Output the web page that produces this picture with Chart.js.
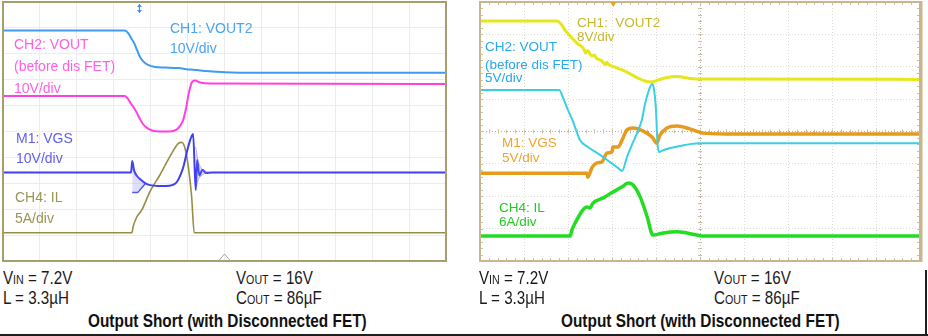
<!DOCTYPE html>
<html>
<head>
<meta charset="utf-8">
<script src="https://cdn.jsdelivr.net/npm/chart.js@4.4.1/dist/chart.umd.min.js"></script>
<style>
  html, body { margin:0; padding:0; background:#ffffff; }
  #root { position:relative; width:928px; height:336px; overflow:hidden; background:#fff; }
  .panel { position:absolute; top:0; }
  .lbl { position:absolute; font-family:"Liberation Sans", Arial, sans-serif; white-space:pre; }
  .lft { font-size:14px; line-height:14px; }
  .rgt { font-size:13.5px; line-height:13.5px; }
  .cap { position:absolute; font-family:"Liberation Sans", Arial, sans-serif; color:#1a1a1a; white-space:pre; font-size:18.5px; line-height:18.5px; transform:scaleX(0.82); transform-origin:0 0; }
  .cap .sub { font-size:13px; }
  .ttl { position:absolute; font-family:"Liberation Sans", Arial, sans-serif; font-weight:bold; color:#111; white-space:pre; font-size:19px; line-height:19px; transform:scaleX(0.81); transform-origin:0 0; }
  .rule { position:absolute; background:#1e1e1e; }
</style>
</head>
<body>
<div id="root">
  <div class="panel" style="left:0;width:450px;height:264px;"><canvas id="cL" width="450" height="264"></canvas></div>
  <div class="panel" style="left:476px;width:448px;height:264px;"><canvas id="cR" width="448" height="264"></canvas></div>

  <!-- left panel labels -->
  <div class="lbl lft" style="left:170px;top:21px;color:#4aa3f3;">CH1: VOUT2</div>
  <div class="lbl lft" style="left:170px;top:41px;color:#4aa3f3;">10V/div</div>
  <div class="lbl lft" style="left:14px;top:37px;color:#ff5fe4;">CH2: VOUT</div>
  <div class="lbl lft" style="left:14px;top:59px;color:#ff5fe4;">(before dis FET)</div>
  <div class="lbl lft" style="left:14px;top:81px;color:#ff5fe4;">10V/div</div>
  <div class="lbl lft" style="left:16px;top:131px;color:#5f5ff0;">M1: VGS</div>
  <div class="lbl lft" style="left:16px;top:151px;color:#5f5ff0;">10V/div</div>
  <div class="lbl lft" style="left:15px;top:190px;color:#9a9456;">CH4: IL</div>
  <div class="lbl lft" style="left:15px;top:211px;color:#9a9456;">5A/div</div>

  <!-- right panel labels -->
  <div class="lbl rgt" style="left:577px;top:16px;color:#c6b82c;">CH1:  VOUT2</div>
  <div class="lbl rgt" style="left:577px;top:30px;color:#c6b82c;">8V/div</div>
  <div class="lbl rgt" style="left:485px;top:40px;color:#26a9ee;">CH2: VOUT</div>
  <div class="lbl rgt" style="left:485px;top:58px;color:#26a9ee;">(before dis FET)</div>
  <div class="lbl rgt" style="left:485px;top:71px;color:#26a9ee;">5V/div</div>
  <div class="lbl rgt" style="left:502px;top:136px;color:#f0a42c;">M1: VGS</div>
  <div class="lbl rgt" style="left:502px;top:151px;color:#f0a42c;">5V/div</div>
  <div class="lbl rgt" style="left:499px;top:201px;color:#24cc24;">CH4: IL</div>
  <div class="lbl rgt" style="left:499px;top:215px;color:#24cc24;">6A/div</div>

  <!-- captions -->
  <div class="cap" style="left:3px;top:269px;">V<span class="sub">IN</span> = 7.2V</div>
  <div class="cap" style="left:3px;top:289px;">L = 3.3µH</div>
  <div class="cap" style="left:236px;top:269px;">V<span class="sub">OUT</span> = 16V</div>
  <div class="cap" style="left:236px;top:289px;">C<span class="sub">OUT</span> = 86µF</div>
  <div class="ttl" style="left:88px;top:311px;">Output Short (with Disconnected FET)</div>

  <div class="cap" style="left:479px;top:269px;">V<span class="sub">IN</span> = 7.2V</div>
  <div class="cap" style="left:479px;top:289px;">L = 3.3µH</div>
  <div class="cap" style="left:714px;top:269px;">V<span class="sub">OUT</span> = 16V</div>
  <div class="cap" style="left:714px;top:289px;">C<span class="sub">OUT</span> = 86µF</div>
  <div class="ttl" style="left:561px;top:311px;">Output Short (with Disconnected FET)</div>

  <div class="rule" style="left:0;top:334px;width:928px;height:2px;"></div>
  <div class="rule" style="left:925px;top:270px;width:2px;height:66px;"></div>
</div>

<script>
// ---------------- DATA (x in horizontal divisions, y in vertical divisions) ----------------
// Left scope: 12 x 10 divisions
const leftVout2 = [[0,8.90],[3.30,8.90],[3.39,8.80],[3.47,8.61],[3.55,8.42],[3.63,8.15],[3.71,7.88],[3.82,7.68],[3.93,7.57],[4.12,7.49],[4.39,7.47],[4.74,7.45],[5.07,7.39],[5.47,7.34],[6.01,7.29],[6.96,7.27],[12,7.27]];
const leftVout = [[0,6.37],[3.30,6.37],[3.39,6.25],[3.47,6.06],[3.55,5.91],[3.63,5.71],[3.71,5.48],[3.79,5.29],[3.90,5.14],[4.04,5.04],[4.25,5.00],[4.52,5.00],[4.69,5.06],[4.79,5.21],[4.88,5.44],[4.96,5.91],[5.04,6.53],[5.12,6.91],[5.20,6.97],[5.34,6.89],[5.61,6.85],[12,6.83]];
const leftVgs = [[0,3.42],[3.47,3.42],[3.50,3.86],[3.55,3.50],[3.63,3.28],[3.74,3.13],[3.85,3.01],[3.98,2.93],[4.20,2.90],[4.41,2.90],[4.58,2.93],[4.71,3.05],[4.82,3.36],[4.90,3.71],[4.98,4.21],[5.07,4.67],[5.15,4.90],[5.22,2.74],[5.26,3.90],[5.32,3.30],[5.40,3.52],[5.50,3.40],[5.66,3.42],[12,3.42]];
const leftVgsRingTop = [[3.50,3.86],[3.55,3.50],[3.63,3.28],[3.74,3.13],[3.85,3.01]];
const leftVgsRingBottom = [[3.50,2.64],[3.55,2.64],[3.63,2.64],[3.74,2.80],[3.85,2.98]];
const leftVgsRing2Top = [[5.22,4.40],[5.28,3.90],[5.36,3.60],[5.46,3.48],[5.58,3.43]];
const leftVgsRing2Bottom = [[5.22,2.74],[5.28,3.10],[5.36,3.28],[5.46,3.37],[5.58,3.41]];
const leftIl = [[0,1.09],[3.49,1.09],[3.53,1.35],[3.62,1.69],[3.76,1.97],[3.98,2.68],[4.25,3.32],[4.52,4.03],[4.75,4.54],[4.84,4.58],[4.93,4.35],[5.02,3.64],[5.11,2.48],[5.18,1.09],[12,1.09]];

// Right scope: 10 x 8 divisions
const rightVout2 = [[0,7.41],[1.75,7.41],[1.84,7.32],[1.95,7.10],[2.09,6.89],[2.23,6.70],[2.36,6.55],[2.40,6.42],[2.45,6.50],[2.50,6.39],[2.55,6.33],[2.60,6.36],[2.64,6.27],[2.77,6.18],[2.85,6.07],[2.88,6.14],[2.91,6.08],[3.07,5.99],[3.23,5.90],[3.41,5.78],[3.59,5.65],[3.75,5.56],[3.89,5.53],[4.05,5.59],[4.25,5.67],[4.48,5.70],[4.77,5.64],[5.11,5.62],[10,5.61]];
const rightVout = [[0,5.28],[1.80,5.28],[1.89,5.03],[1.98,4.73],[2.05,4.51],[2.11,4.32],[2.20,3.98],[2.27,3.74],[2.45,3.52],[2.66,3.34],[2.95,3.06],[3.14,2.87],[3.23,2.78],[3.34,3.21],[3.45,3.58],[3.57,3.95],[3.68,4.36],[3.75,4.85],[3.84,5.28],[3.91,5.47],[3.95,5.34],[4.00,4.66],[4.03,3.74],[4.06,3.37],[4.18,3.43],[4.32,3.49],[4.55,3.55],[4.77,3.61],[5.00,3.64],[10,3.64]];
const rightVgs = [[0,2.71],[2.43,2.71],[2.45,2.59],[2.55,2.90],[2.66,3.03],[2.77,3.06],[2.89,3.34],[3.00,3.37],[3.02,3.52],[3.14,3.52],[3.23,3.74],[3.34,4.05],[3.48,4.11],[3.70,4.02],[3.91,3.83],[4.02,3.64],[4.09,3.89],[4.25,4.11],[4.48,4.17],[4.77,4.08],[5.07,3.95],[5.84,3.92],[10,3.92]];
const rightIl = [[0,0.77],[2.05,0.77],[2.09,0.96],[2.20,1.27],[2.34,1.58],[2.43,1.67],[2.50,1.64],[2.57,1.79],[2.80,1.95],[3.02,2.13],[3.23,2.29],[3.36,2.41],[3.48,2.35],[3.64,1.98],[3.80,1.36],[3.93,0.80],[4.14,0.86],[4.48,0.90],[4.93,0.80],[5.07,0.77],[10,0.77]];

// Scope markers (in divisions)
const leftTriggerDiv = 3.68;
const leftRefDiv = 6.0;
const rightTriggerDiv = 3.03;

// ---------------- helpers ----------------
const pts = arr => arr.map(p => ({x:p[0], y:p[1]}));
function line(data, color, width, extra) {
  return Object.assign({data: pts(data), borderColor: color, borderWidth: width, pointRadius: 0,
    fill: false, cubicInterpolationMode: 'monotone', spanGaps: true}, extra || {});
}

function framePlugin(color, width, extraRight) {
  return {
    id: 'frame',
    afterDraw(chart) {
      const a = chart.chartArea, c = chart.ctx;
      c.save();
      c.strokeStyle = color; c.lineWidth = width;
      c.strokeRect(a.left, a.top, a.right - a.left, a.bottom - a.top);
      if (extraRight) {
        c.lineWidth = extraRight;
        c.beginPath(); c.moveTo(a.right + 1, a.top - 1); c.lineTo(a.right + 1, a.bottom + 1); c.stroke();
      }
      c.restore();
    }
  };
}

const leftMarkers = {
  id: 'leftMarkers',
  afterDraw(chart) {
    const c = chart.ctx, a = chart.chartArea, xs = chart.scales.x;
    const tx = Math.round(xs.getPixelForValue(leftTriggerDiv)) + 0.5;
    c.save();
    c.strokeStyle = '#4a8fe0'; c.fillStyle = '#4a8fe0'; c.lineWidth = 1.2;
    c.beginPath(); c.moveTo(tx, a.top + 2); c.lineTo(tx, a.top + 11); c.stroke();
    c.beginPath(); c.moveTo(tx - 2.5, a.top + 5); c.lineTo(tx + 2.5, a.top + 5); c.lineTo(tx, a.top + 2); c.closePath(); c.fill();
    c.beginPath(); c.moveTo(tx - 2.5, a.top + 8); c.lineTo(tx + 2.5, a.top + 8); c.lineTo(tx, a.top + 11); c.closePath(); c.fill();
    const rx = xs.getPixelForValue(leftRefDiv);
    c.strokeStyle = '#a8a8a8'; c.lineWidth = 1;
    c.beginPath(); c.moveTo(rx - 6, a.bottom); c.lineTo(rx, a.bottom - 7); c.lineTo(rx + 6, a.bottom); c.stroke();
    c.restore();
  }
};

const rightMarkers = {
  id: 'rightMarkers',
  beforeDatasetsDraw(chart) {
    const c = chart.ctx, a = chart.chartArea, xs = chart.scales.x, ys = chart.scales.y;
    c.save();
    c.strokeStyle = '#c9c1a8'; c.lineWidth = 1;
    const cx = xs.getPixelForValue(5), cy = ys.getPixelForValue(4);
    for (let v = 0; v <= 10.001; v += 0.2) {
      const px = Math.round(xs.getPixelForValue(v)) + 0.5;
      c.beginPath();
      c.moveTo(px, a.top); c.lineTo(px, a.top + 3);
      c.moveTo(px, a.bottom); c.lineTo(px, a.bottom - 3);
      c.moveTo(px, cy - 2); c.lineTo(px, cy + 2);
      c.stroke();
    }
    for (let v = 0; v <= 8.001; v += 0.2) {
      const py = Math.round(ys.getPixelForValue(v)) + 0.5;
      c.beginPath();
      c.moveTo(a.left, py); c.lineTo(a.left + 3, py);
      c.moveTo(a.right, py); c.lineTo(a.right - 3, py);
      c.moveTo(cx - 2, py); c.lineTo(cx + 2, py);
      c.stroke();
    }
    c.restore();
  },
  afterDraw(chart) {
    const c = chart.ctx, a = chart.chartArea, xs = chart.scales.x;
    const tx = xs.getPixelForValue(rightTriggerDiv);
    c.save();
    c.fillStyle = '#e8a020';
    c.beginPath(); c.moveTo(tx - 3, a.top); c.lineTo(tx + 3, a.top); c.lineTo(tx, a.top + 5); c.closePath(); c.fill();
    c.restore();
  }
};

function scopeScales(xMax, yMax, gridColor, dash) {
  return {
    x: { type: 'linear', min: 0, max: xMax,
         ticks: { display: false, stepSize: 1 },
         grid: { color: gridColor, lineWidth: 1, drawTicks: false },
         border: { display: false, dash: dash } },
    y: { type: 'linear', min: 0, max: yMax,
         ticks: { display: false, stepSize: 1 },
         grid: { color: gridColor, lineWidth: 1, drawTicks: false },
         border: { display: false, dash: dash } }
  };
}

// ---------------- LEFT CHART ----------------
new Chart(document.getElementById('cL'), {
  type: 'line',
  data: { datasets: [
    line(leftVout2, '#3d9cf2', 2),
    line(leftVout, '#ff3fe2', 2),
    line(leftVgsRingTop, 'rgba(90,90,240,0.5)', 0.8),
    line(leftVgsRingBottom, 'rgba(70,70,235,0.9)', 1.5, {fill: '-1', backgroundColor: 'rgba(110,110,240,0.22)'}),
    line(leftVgsRing2Top, 'rgba(90,90,240,0.5)', 0.8),
    line(leftVgsRing2Bottom, 'rgba(90,90,240,0.5)', 0.8, {fill: '-1', backgroundColor: 'rgba(110,110,240,0.22)'}),
    line(leftVgs, '#3f3ff0', 2),
    line(leftIl, '#968e44', 1.6)
  ]},
  options: {
    responsive: false, animation: false, events: [],
    layout: { padding: { left: 3, top: 2, right: 4, bottom: 3 } },
    plugins: { legend: { display: false }, tooltip: { enabled: false } },
    scales: scopeScales(12, 10, '#ececec', [])
  },
  plugins: [framePlugin('#a59f70', 2, 0), leftMarkers]
});

// ---------------- RIGHT CHART ----------------
new Chart(document.getElementById('cR'), {
  type: 'line',
  data: { datasets: [
    line(rightVout2, '#e6e61c', 3),
    line(rightVout, '#38d0e2', 2),
    line(rightVgs, '#e69a1e', 3.5),
    line(rightIl, '#22dd22', 3.5)
  ]},
  options: {
    responsive: false, animation: false, events: [],
    layout: { padding: { left: 4, top: 2, right: 4, bottom: 3 } },
    plugins: { legend: { display: false }, tooltip: { enabled: false } },
    scales: scopeScales(10, 8, (ctx) => (ctx.tick && ((ctx.scale.axis === 'x' && ctx.tick.value === 5) || (ctx.scale.axis === 'y' && ctx.tick.value === 4))) ? '#b9b19c' : '#dedbd2', [1, 2])
  },
  plugins: [framePlugin('#c9b68e', 2, 3), rightMarkers]
});
</script>
</body>
</html>
